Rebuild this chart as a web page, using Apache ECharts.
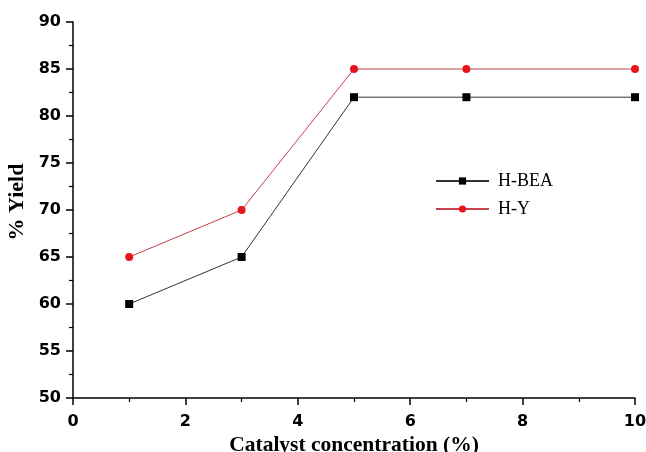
<!DOCTYPE html>
<html>
<head>
<meta charset="utf-8">
<script src="https://cdn.jsdelivr.net/npm/echarts@6/dist/echarts.min.js"></script>
<style>html,body{margin:0;padding:0;background:#fff;}#c{width:646px;height:452px;}</style>
</head>
<body>
<div id="c"></div>
<script>
const xValues = [1, 3, 5, 7, 10];
const hBEA = [60, 65, 82, 82, 82];
const hY = [65, 70, 85, 85, 85];
const seriesNames = ['H-BEA', 'H-Y'];

const chart = echarts.init(document.getElementById('c'));
const pair = (xs, ys) => xs.map((x, i) => [x, ys[i]]);
const tickFont = { fontFamily: 'DejaVu Sans', fontWeight: 'bold', fontSize: 16, color: '#000' };
chart.setOption({
  animation: false,
  backgroundColor: '#fff',
  grid: { left: 73, right: 11, top: 22, bottom: 54, containLabel: false, outerBoundsMode: 'none' },
  legend: {
    orient: 'vertical',
    left: 430,
    top: 167,
    itemWidth: 53,
    itemHeight: 9,
    itemGap: 10,
    textStyle: { fontFamily: 'Liberation Serif', fontSize: 18, lineHeight: 18, color: '#000', padding: [0, 0, 0, 4] },
    data: seriesNames
  },
  xAxis: {
    type: 'value',
    min: 0, max: 10, interval: 2,
    name: 'Catalyst concentration (%)',
    nameLocation: 'middle',
    nameGap: 36,
    nameTextStyle: { fontFamily: 'Liberation Serif', fontWeight: 'bold', fontSize: 21.5, color: '#000' },
    axisLine: { lineStyle: { color: '#000', width: 1.5 } },
    axisTick: { inside: false, length: 7, lineStyle: { color: '#000', width: 1.5 } },
    minorTick: { show: true, splitNumber: 2, length: 4, lineStyle: { color: '#000', width: 1.2 } },
    axisLabel: Object.assign({ margin: 16 }, tickFont),
    splitLine: { show: false }
  },
  yAxis: {
    type: 'value',
    min: 50, max: 90, interval: 5,
    name: '% Yield',
    nameLocation: 'middle',
    nameGap: 36,
    nameRotate: 90,
    nameTextStyle: { fontFamily: 'Liberation Serif', fontWeight: 'bold', fontSize: 22, color: '#000', padding: [0, 0, 0, 16] },
    axisLine: { show: true, lineStyle: { color: '#000', width: 1.5 } },
    axisTick: { show: true, inside: false, length: 7, lineStyle: { color: '#000', width: 1.5 } },
    minorTick: { show: true, splitNumber: 2, length: 4, lineStyle: { color: '#000', width: 1.2 } },
    axisLabel: Object.assign({ margin: 12 }, tickFont),
    splitLine: { show: false }
  },
  series: [
    {
      name: seriesNames[0],
      type: 'line',
      data: pair(xValues, hBEA),
      symbol: 'rect',
      symbolSize: 8,
      itemStyle: { color: '#000' },
      lineStyle: { color: '#333', width: 1 }
    },
    {
      name: seriesNames[1],
      type: 'line',
      data: pair(xValues, hY),
      symbol: 'circle',
      symbolSize: 8,
      itemStyle: { color: '#e8141b' },
      lineStyle: { color: '#c2434b', width: 1 }
    }
  ]
});
</script>
</body>
</html>
